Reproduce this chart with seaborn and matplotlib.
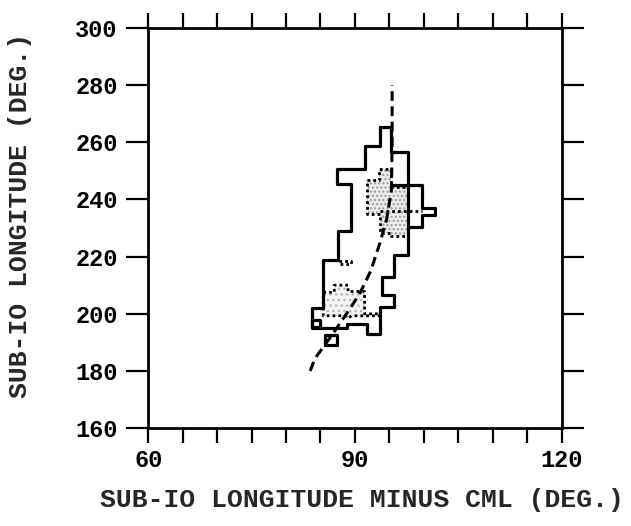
import matplotlib
matplotlib.use("Agg")
import matplotlib.pyplot as plt
import seaborn as sns

# outer contour (solid)
outer_x = [93.7, 95.3, 95.3, 97.7, 97.7, 95.6, 95.6, 93.9, 93.9, 95.6, 95.6, 93.6, 93.6, 91.7,
           91.7, 88.8, 88.8, 83.7, 83.7, 85.4, 85.4, 87.6, 87.6, 89.4, 89.4, 87.4, 87.4, 91.5,
           91.5, 93.7, 93.7]
outer_y = [265.2, 265.2, 256.7, 256.7, 220.5, 220.5, 213.0, 213.0, 206.5, 206.5, 202.5, 202.5,
           193.1, 193.1, 196.5, 196.5, 195.2, 195.2, 201.9, 201.9, 218.8, 218.8, 228.9, 228.9,
           245.3, 245.3, 250.6, 250.6, 258.6, 258.6, 265.2]

# box on the right side with its tail
box_x = [95.5, 99.7, 99.7, 101.6, 101.6, 99.7, 99.7, 97.7]
box_y = [245.0, 245.0, 237.0, 237.0, 234.6, 234.6, 230.4, 230.4]

# small closed pieces
square_x = [85.65, 87.35, 87.35, 85.65, 85.65]
square_y = [189.0, 189.0, 192.5, 192.5, 189.0]
inner_x = [83.7, 84.9, 84.9, 83.7, 83.7]
inner_y = [195.5, 195.5, 197.8, 197.8, 195.5]

# higher level regions (dotted, stippled)
upper_x = [91.8, 93.5, 93.5, 95.3, 95.3, 97.7, 97.7, 95.3, 95.3, 93.6, 93.6, 91.8, 91.8]
upper_y = [246.8, 246.8, 250.8, 250.8, 244.5, 244.5, 227.3, 227.3, 228.2, 228.2, 235.0, 235.0, 246.8]
lower_x = [85.4, 87.0, 87.0, 89.0, 89.0, 91.4, 91.4, 93.6, 93.6, 89.5, 89.0, 88.5, 85.4, 85.4]
lower_y = [207.5, 207.5, 210.0, 210.0, 207.8, 207.8, 200.0, 200.0, 199.3, 199.3, 198.5, 199.3, 199.3, 207.5]
mark_x = [87.9, 89.5, 89.5, 87.9, 87.9]
mark_y = [217.3, 217.3, 218.3, 218.3, 217.3]
mid_x = [93.6, 99.7]
mid_y = [235.8, 235.8]

# dashed curve
curve_x = [83.5, 84.2, 86.5, 88.8, 90.7, 92.3, 93.6, 94.6, 95.3, 95.4, 95.4]
curve_y = [180.0, 184.4, 192.0, 200.1, 207.1, 215.0, 224.6, 233.0, 243.3, 260.0, 280.0]

sns.set_theme(style="white")
plt.rcParams["font.family"] = ["Liberation Mono", "DejaVu Sans Mono"]
plt.rcParams["font.weight"] = "bold"
plt.rcParams["hatch.linewidth"] = 1.0

fig, ax = plt.subplots(figsize=(6.31, 5.26), dpi=100)
fig.subplots_adjust(left=0.235, right=0.890, top=0.947, bottom=0.186)

# stipple fill
ax.fill(upper_x, upper_y, facecolor="#ececec", edgecolor="#9a9a9a", hatch="....", linewidth=0)
ax.fill(lower_x, lower_y, facecolor="#f4f4f4", edgecolor="#b5b5b5", hatch="...", linewidth=0)

solid = dict(color="black", linewidth=2.3, sort=False, estimator=None, ax=ax)
for xs, ys in [(outer_x, outer_y), (box_x, box_y), (square_x, square_y), (inner_x, inner_y)]:
    sns.lineplot(x=xs, y=ys, **solid)

dotted = dict(color="black", linewidth=2.0, linestyle=(0, (1, 1.1)), sort=False, estimator=None, ax=ax)
for xs, ys in [(upper_x, upper_y), (lower_x, lower_y), (mark_x, mark_y), (mid_x, mid_y)]:
    sns.lineplot(x=xs, y=ys, **dotted)

sns.lineplot(x=curve_x, y=curve_y, color="black", linewidth=2.2, linestyle=(0, (3.2, 1.8)),
             sort=False, estimator=None, ax=ax)

ax.set_xlim(60, 120)
ax.set_ylim(160, 300)
ax.set_xticks([60, 90, 120])
ax.set_xticks(range(60, 121, 5), minor=True)
ax.set_yticks(range(160, 301, 20))

for s in ax.spines.values():
    s.set_linewidth(2.0)
    s.set_color("black")

ax.tick_params(axis="x", which="both", direction="out", length=11, width=1.6, top=True,
               bottom=True, labelsize=17, pad=4, colors="black")
ax.tick_params(axis="y", which="major", direction="out", length=16, width=1.6, left=True,
               right=True, labelsize=17, pad=6, colors="black")
ax.set_xlabel("")
ax.set_ylabel("")

fig.text(0.032, 0.59, "SUB-IO LONGITUDE (DEG.)", rotation=90, ha="center", va="center",
         fontsize=19, fontweight="bold")
fig.text(0.574, 0.049, "SUB-IO LONGITUDE MINUS CML (DEG.)", ha="center", va="center",
         fontsize=19, fontweight="bold")

fig.savefig("out.png", dpi=100)
